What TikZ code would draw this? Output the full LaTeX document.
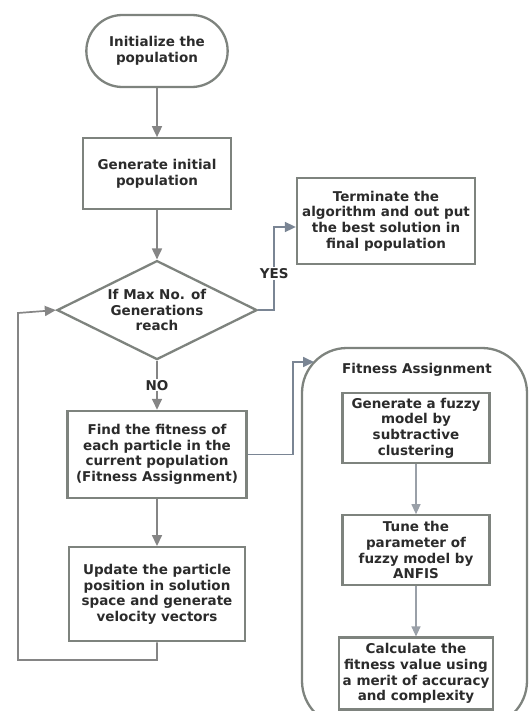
\documentclass[tikz,border=0pt]{standalone}
\usepackage{fontspec}
\setmainfont{DejaVu Sans}
\usetikzlibrary{shapes.geometric,shapes.misc,positioning,arrows.meta}

\definecolor{edgegray}{HTML}{7E837E}
\definecolor{arrowgray}{HTML}{858585}
\definecolor{bluegray}{HTML}{7A8594}
\definecolor{lightarrow}{HTML}{9AA0A8}
\definecolor{inkgray}{HTML}{2B2B2B}

\begin{document}
\begin{tikzpicture}[
  x=1pt,y=-1pt,
  node distance=49pt,
  every node/.style={font=\bfseries\fontsize{13.5}{15.7}\selectfont,text=inkgray,align=center},
  terminal/.style={rounded rectangle,draw=edgegray,line width=2.3pt,minimum width=148pt,minimum height=72pt},
  block/.style={draw=edgegray,line width=2.3pt,minimum width=148pt,minimum height=71pt,inner sep=2pt},
  decide/.style={diamond,draw=edgegray,line width=2.3pt,minimum width=200pt,minimum height=99pt,inner sep=0pt,aspect=2},
  flow/.style={-{Triangle[width=10pt,length=11pt]},draw=arrowgray,line width=1.7pt},
  blueflow/.style={-{Triangle[width=10pt,length=11pt]},draw=bluegray,line width=1.7pt},
  thinflow/.style={-{Triangle[width=9pt,length=10pt]},draw=lightarrow,line width=1.2pt}
]
  \useasboundingbox (0,0) rectangle (529,711);
  \clip (0,0) rectangle (529,711);

  % main loop
  \node[terminal] (start) at (157,51) {Initialize the\\population};
  \node[block,below=of start] (gen) {Generate initial\\population};
  \node[decide,below=of gen] (decide) {If Max No. of\\Generations\\reach};
  \node[block,below=of decide,minimum width=179pt,minimum height=87pt] (find)
    {Find the fitness of\\each particle in the\\current population\\(Fitness Assignment)};
  \node[block,below=47pt of find,minimum width=176pt,minimum height=94pt] (update)
    {Update the particle\\position in solution\\space and generate\\velocity vectors};
  \node[block,minimum width=178pt,minimum height=86pt] (term) at (386,221)
    {Terminate the\\algorithm and out put\\the best solution in\\final population};

  % fitness assignment
  \node[draw=edgegray,line width=2.3pt,rounded corners=45pt,minimum width=225pt,minimum height=378pt] (fitbox) at (414.5,537) {};
  \node (fittitle) at (417,370) {Fitness Assignment};
  \node[block,minimum width=147pt,minimum height=70pt] (fz1) at (416,428)
    {Generate a fuzzy\\model by\\subtractive\\clustering};
  \node[block,below=50pt of fz1,minimum width=147pt,minimum height=70pt] (fz2)
    {Tune the\\parameter of\\fuzzy model by\\ANFIS};
  \node[block,below=50pt of fz2,minimum width=154pt,minimum height=72pt] (fz3)
    {Calculate the\\fitness value using\\a merit of accuracy\\and complexity};

  \coordinate (loopbot) at (18,660);
  \coordinate (looptop) at (18,313);
  \coordinate (fitin) at (314,362);

  \draw[flow] (start) -- (gen);
  \draw[flow] (gen) -- (decide);
  \draw[flow] (decide) -- node[fill=white,inner sep=1pt]{NO} (find);
  \draw[flow] (find) -- (update);
  \draw[flow] (update.south) |- (loopbot) -- (looptop) -- (decide.west);
  \draw[blueflow] (decide.east) -- ++(16,0) |- node[pos=.22,fill=white,inner sep=1pt]{YES} ([yshift=-6pt]term.west);
  \draw[blueflow] (find.east) -- ++(45,0) |- (fitin);
  \draw[thinflow] (fz1) -- (fz2);
  \draw[thinflow] (fz2) -- (fz3);
\end{tikzpicture}
\end{document}
